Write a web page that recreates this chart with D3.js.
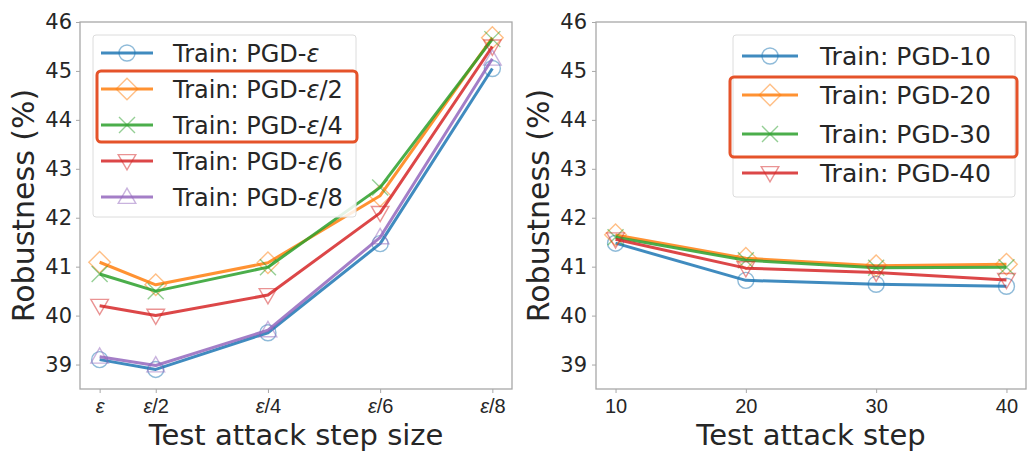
<!DOCTYPE html>
<html>
<head>
<meta charset="utf-8">
<script src="https://cdn.jsdelivr.net/npm/d3@7"></script>
<style>
  html, body { margin: 0; padding: 0; background: #fff; }
  svg { display: block; font-family: "DejaVu Sans", sans-serif; }
</style>
</head>
<body>
<svg id="chart" width="1028" height="452"></svg>
<script>
// ---- data: step-size sweep (left) ----
const stepSizeX = [1, 2, 4, 6, 8];
const stepSizeTicks = ["", "/2", "/4", "/6", "/8"];   // each prefixed with an italic ε
const stepSizeSeries = ["", "/2", "/4", "/6", "/8"];  // legend suffix after "Train: PGD-ε"
const pgdEps   = [39.10, 38.90, 39.65, 41.47, 45.05];
const pgdEps2  = [41.09, 40.63, 41.08, 42.45, 45.68];
const pgdEps4  = [40.85, 40.50, 40.99, 42.62, 45.65];
const pgdEps6  = [40.20, 40.00, 40.42, 42.10, 45.50];
const pgdEps8  = [39.16, 38.98, 39.70, 41.60, 45.25];

// ---- data: step-count sweep (right) ----
const stepCountX = [10, 20, 30, 40];
const stepCountSeries = ["10", "20", "30", "40"];
const pgd10 = [41.48, 40.72, 40.64, 40.60];
const pgd20 = [41.65, 41.17, 41.02, 41.05];
const pgd30 = [41.60, 41.13, 40.98, 40.99];
const pgd40 = [41.56, 40.97, 40.88, 40.73];

const yTicks = [39, 40, 41, 42, 43, 44, 45, 46];

const colors = ["#1f77b4", "#ff7f0e", "#2ca02c", "#d62728", "#9467bd"];
const markers = ["circle", "diamond", "cross", "tri-down", "tri-up"];
const textColor = "#262626";
const highlight = "#e5532a";

const svg = d3.select("#chart");

function markerPath(kind, s) {
  const h = s / 2;
  switch (kind) {
    case "circle":
      return `M${h},0A${h},${h} 0 1,1 ${-h},0A${h},${h} 0 1,1 ${h},0Z`;
    case "diamond": {
      const d = h * 1.35;
      return `M0,${-d}L${d},0L0,${d}L${-d},0Z`;
    }
    case "cross":
      return `M${-h},${-h}L${h},${h}M${-h},${h}L${h},${-h}`;
    case "tri-down":
      return `M${-h * 1.1},${-h * 0.8}L${h * 1.1},${-h * 0.8}L0,${h * 1.1}Z`;
    case "tri-up":
      return `M${-h * 1.1},${h * 0.8}L${h * 1.1},${h * 0.8}L0,${-h * 1.1}Z`;
  }
}

function epsLabel(sel, prefix, suffix) {
  if (prefix) sel.append("tspan").text(prefix);
  sel.append("tspan").attr("font-style", "italic").text("ε");
  if (suffix) sel.append("tspan").text(suffix);
}

function panel(opts) {
  const { left, right, top, bottom, xDomain, xs, series, tickFormat, xlabel, ylabelX, tickLabelX } = opts;
  const x = d3.scaleLinear().domain(xDomain).range([left, right]);
  const y = d3.scaleLinear().domain([38.5, 46]).range([bottom, top]);
  const g = svg.append("g");

  // frame
  g.append("rect")
    .attr("x", left).attr("y", top)
    .attr("width", right - left).attr("height", bottom - top)
    .attr("fill", "#fff").attr("stroke", "#a8a8a8").attr("stroke-width", 1.3);

  // y axis
  const ya = g.append("g").attr("transform", `translate(${left},0)`)
    .call(d3.axisLeft(y).tickValues(yTicks).tickSize(4).tickPadding(left - tickLabelX - 4).tickFormat(d3.format("d")));
  ya.select(".domain").remove();
  ya.selectAll(".tick line").attr("stroke", "#a8a8a8");
  ya.selectAll(".tick text").attr("fill", textColor).attr("font-size", 21)
    .attr("font-family", "DejaVu Sans");

  // x axis
  const xa = g.append("g").attr("transform", `translate(0,${bottom})`)
    .call(d3.axisBottom(x).tickValues(xs).tickSize(4).tickPadding(6).tickFormat(""));
  xa.select(".domain").remove();
  xa.selectAll(".tick line").attr("stroke", "#a8a8a8");
  xa.selectAll(".tick").each(function (d, i) {
    const t = d3.select(this).append("text")
      .attr("y", 24).attr("text-anchor", "middle")
      .attr("fill", textColor).attr("font-size", 20);
    tickFormat(t, i);
  });

  // axis titles
  g.append("text")
    .attr("x", (left + right) / 2).attr("y", 445)
    .attr("text-anchor", "middle").attr("fill", textColor).attr("font-size", 29)
    .text(xlabel);
  g.append("text")
    .attr("transform", `translate(${ylabelX},${(top + bottom) / 2}) rotate(-90)`)
    .attr("text-anchor", "middle").attr("fill", textColor).attr("font-size", 30)
    .attr("dy", "0.35em")
    .text("Robustness (%)");

  // series
  const line = d3.line().x((d, i) => x(xs[i])).y(d => y(d));
  series.forEach((vals, k) => {
    const s = g.append("g");
    s.append("path").datum(vals)
      .attr("d", line).attr("fill", "none")
      .attr("stroke", colors[k]).attr("stroke-width", 3)
      .attr("stroke-opacity", 0.85).attr("stroke-linejoin", "round");
    s.selectAll(".m").data(vals).join("path")
      .attr("transform", (d, i) => `translate(${x(xs[i])},${y(d)})`)
      .attr("d", markerPath(markers[k], 16))
      .attr("fill", "none").attr("stroke", colors[k])
      .attr("stroke-width", 1.4).attr("stroke-opacity", 0.5);
  });
  return g;
}

function legend(opts) {
  const { box, rows, rowY0, rowStep, lineX0, lineX1, textX, fontSize, labels, hl } = opts;
  const g = svg.append("g");
  g.append("rect")
    .attr("x", box[0]).attr("y", box[1])
    .attr("width", box[2] - box[0]).attr("height", box[3] - box[1])
    .attr("rx", 3).attr("fill", "#fff").attr("fill-opacity", 0.85)
    .attr("stroke", "#dcdcdc").attr("stroke-width", 1);
  for (let k = 0; k < rows; k++) {
    const cy = rowY0 + k * rowStep;
    g.append("line")
      .attr("x1", lineX0).attr("x2", lineX1).attr("y1", cy).attr("y2", cy)
      .attr("stroke", colors[k]).attr("stroke-width", 3).attr("stroke-opacity", 0.85);
    g.append("path")
      .attr("transform", `translate(${(lineX0 + lineX1) / 2},${cy})`)
      .attr("d", markerPath(markers[k], 16))
      .attr("fill", "none").attr("stroke", colors[k])
      .attr("stroke-width", 1.4).attr("stroke-opacity", 0.5);
    const t = g.append("text")
      .attr("x", textX).attr("y", cy).attr("dy", "0.36em")
      .attr("fill", textColor).attr("font-size", fontSize);
    labels(t, k);
  }
  g.append("rect")
    .attr("x", hl[0]).attr("y", hl[1])
    .attr("width", hl[2] - hl[0]).attr("height", hl[3] - hl[1])
    .attr("rx", 4).attr("fill", "none")
    .attr("stroke", highlight).attr("stroke-width", 3);
}

// left panel: test attack step size
panel({
  left: 80, right: 512, top: 22, bottom: 389,
  xDomain: [0.65, 8.35], xs: stepSizeX,
  series: [pgdEps, pgdEps2, pgdEps4, pgdEps6, pgdEps8],
  tickFormat: (t, i) => epsLabel(t, "", stepSizeTicks[i]),
  xlabel: "Test attack step size", ylabelX: 23, tickLabelX: 72
});
legend({
  box: [93, 35, 356, 217], rows: 5, rowY0: 53, rowStep: 36,
  lineX0: 101, lineX1: 153, textX: 173, fontSize: 24,
  labels: (t, k) => epsLabel(t, "Train: PGD-", stepSizeSeries[k]),
  hl: [97, 71, 357, 142]
});

// right panel: test attack step count
panel({
  left: 596, right: 1026, top: 22, bottom: 389,
  xDomain: [8.5, 41.5], xs: stepCountX,
  series: [pgd10, pgd20, pgd30, pgd40],
  tickFormat: (t, i) => t.text(stepCountX[i]),
  xlabel: "Test attack step", ylabelX: 538, tickLabelX: 587
});
legend({
  box: [733, 35, 1015, 197], rows: 4, rowY0: 56, rowStep: 39,
  lineX0: 742, lineX1: 798, textX: 820, fontSize: 25,
  labels: (t, k) => t.text("Train: PGD-" + stepCountSeries[k]),
  hl: [730, 77, 1017, 157]
});
</script>
</body>
</html>
